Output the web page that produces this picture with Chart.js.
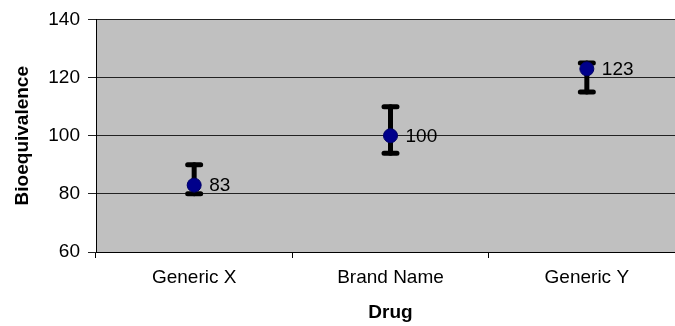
<!DOCTYPE html>
<html>
<head>
<meta charset="utf-8">
<script src="https://cdn.jsdelivr.net/npm/chart.js@4"></script>
<style>
  html, body { margin: 0; padding: 0; background: #fff; overflow: hidden; }
  #wrap { width: 693px; height: 326px; }
</style>
</head>
<body>
<div id="wrap"><canvas id="bioChart" width="693" height="326"></canvas></div>
<script>
'use strict';

// chart values
var drugs = ['Generic X', 'Brand Name', 'Generic Y'];
var means = [83, 100, 123];
var lows = [80, 94, 115];
var highs = [90, 110, 125];
var yTicks = [60, 80, 100, 120, 140];

var fontFamily = '"Liberation Sans", Arial, sans-serif';

// grey plot background
var plotBackground = {
    id: 'plotBackground',
    beforeDraw: function (chart) {
        var a = chart.chartArea, ctx = chart.ctx;
        ctx.save();
        ctx.fillStyle = '#c0c0c0';
        ctx.fillRect(a.left, a.top, a.right - a.left, a.bottom - a.top);
        ctx.restore();
    }
};

// error bars, under the points
var errorBars = {
    id: 'errorBars',
    beforeDatasetsDraw: function (chart) {
        var ctx = chart.ctx, x = chart.scales.x, y = chart.scales.y;
        ctx.save();
        ctx.strokeStyle = '#000';
        ctx.lineCap = 'round';
        drugs.forEach(function (d, i) {
            var px = x.getPixelForValue(i);
            var yLo = y.getPixelForValue(lows[i]);
            var yHi = y.getPixelForValue(highs[i]);
            ctx.lineWidth = 5;
            ctx.beginPath();
            ctx.moveTo(px, yLo);
            ctx.lineTo(px, yHi);
            ctx.stroke();
            ctx.lineWidth = 5;
            ctx.beginPath();
            ctx.moveTo(px - 6.5, yLo); ctx.lineTo(px + 6.5, yLo);
            ctx.moveTo(px - 6.5, yHi); ctx.lineTo(px + 6.5, yHi);
            ctx.stroke();
        });
        ctx.restore();
    },
    afterDatasetsDraw: function (chart) {
        var ctx = chart.ctx, meta = chart.getDatasetMeta(0);
        ctx.save();
        ctx.fillStyle = '#000';
        ctx.font = '19px ' + fontFamily;
        ctx.textAlign = 'left';
        ctx.textBaseline = 'middle';
        meta.data.forEach(function (pt, i) {
            ctx.fillText(String(means[i]), pt.x + 15, pt.y + 1);
        });
        ctx.restore();
    }
};

var myChart = new Chart(document.getElementById('bioChart'), {
    type: 'line',
    data: {
        labels: drugs,
        datasets: [{
            data: means,
            showLine: false,
            pointRadius: 7,
            pointHoverRadius: 7,
            pointBackgroundColor: '#00008b',
            pointBorderColor: '#000066',
            pointBorderWidth: 1
        }]
    },
    options: {
        responsive: false,
        animation: false,
        events: [],
        layout: { padding: { left: 6, right: 3, top: 17, bottom: 0 } },
        plugins: { legend: { display: false }, tooltip: { enabled: false } },
        scales: {
            x: {
                type: 'category',
                offset: true,
                afterFit: function (s) { s.height = 74; },
                grid: { drawOnChartArea: false, offset: true, tickLength: 6, color: '#000', lineWidth: 1 },
                border: { color: '#000', width: 1 },
                ticks: { color: '#000', padding: 8, font: { family: fontFamily, size: 19 } },
                title: {
                    display: true, text: 'Drug', color: '#000',
                    padding: { top: 0, bottom: 2 },
                    font: { family: fontFamily, size: 19, weight: 'bold' }
                }
            },
            y: {
                min: yTicks[0],
                max: yTicks[yTicks.length - 1],
                afterFit: function (s) { s.width = 90; },
                afterBuildTicks: function (s) {
                    s.ticks = yTicks.map(function (v) { return { value: v }; });
                },
                grid: { color: '#222', lineWidth: 1, tickLength: 8 },
                border: { color: '#000', width: 1 },
                ticks: { color: '#000', padding: 8, font: { family: fontFamily, size: 19 } },
                title: {
                    display: true, text: 'Bioequivalence', color: '#000',
                    padding: { top: 5, bottom: 4 },
                    font: { family: fontFamily, size: 19, weight: 'bold' }
                }
            }
        }
    },
    plugins: [plotBackground, errorBars]
});
</script>
</body>
</html>
